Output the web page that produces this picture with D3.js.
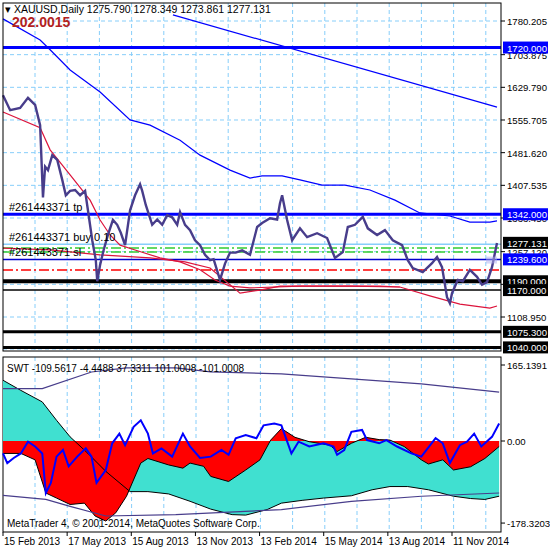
<!DOCTYPE html>
<html><head><meta charset="utf-8">
<script src="https://cdn.jsdelivr.net/npm/d3@7"></script>
<style>body{margin:0;background:#fff}svg{display:block}text{font-family:"Liberation Sans",Arial,sans-serif}</style>
</head><body><svg id="c" width="550" height="550"></svg>
<script>
// days since 15 Feb 2013
const priceDay=[0,10,24,35,45,52,56,59,63,69,76,83,88,94,101,108,115,119,125,130,132,136,141,147,154,160,165,171,178,185,192,195,200,209,216,223,230,237,244,248,255,262,269,276,283,290,295,304,311,318,326,335,346,356,363,374,384,388,391,398,405,416,426,440,454,465,476,483,493,504,511,524,535,546,559,567,574,588,601,608,615,622,626,629,637,644,654,664,671,678,685,692];
const priceClose=[1612,1578,1583,1606,1590,1544,1380,1450,1442,1476,1465,1420,1385,1395,1397,1385,1395,1351,1283,1238,1190,1227,1261,1295,1329,1318,1300,1272,1351,1385,1410,1395,1363,1318,1330,1318,1340,1335,1318,1347,1318,1306,1283,1272,1250,1238,1240,1193,1230,1255,1255,1260,1250,1313,1322,1333,1330,1367,1385,1329,1283,1310,1290,1299,1288,1243,1256,1313,1318,1336,1310,1295,1306,1283,1272,1238,1220,1211,1231,1245,1222,1154,1140,1163,1193,1190,1216,1200,1182,1188,1222,1277];
const ma200Day=[0,52,66,94,136,178,206,248,276,318,346,363,391,416,447,479,514,549,584,626,654,682,692];
const ma200=[1785,1737,1715,1669,1619,1556,1544,1510,1476,1442,1424,1429,1429,1420,1408,1408,1397,1374,1345,1338,1324,1324,1327];
const trendDay=[238,692], trendVal=[1794,1585];
const maFastDay=[0,52,66,94,122,136,150,164,185,220,248,276,297,318,346,416,486,556,598,640,682,692];
const maFast=[1574,1538,1488,1431,1374,1329,1295,1272,1261,1243,1234,1216,1193,1179,1175,1179,1179,1177,1157,1138,1129,1134];
const maSlowDay=[0,66,136,206,255,290,332,360,388,528,556];
const maSlow=[1265,1261,1250,1243,1234,1220,1163,1170,1179,1179,1177];
const priceTicks=[1780.205,1703.875,1629.790,1555.705,1481.620,1407.535,1333.450,1257.120,1183.035,1108.950];
const levels=[
 {p:1720,c:"#0000ff",w:3,dash:null,box:"#0000ff",t:"1720.000"},
 {p:1342,c:"#0000ff",w:3,dash:null,box:"#0000ff",t:"1342.000",lab:"#261443371 tp"},
 {p:1274,c:"#87cefa",w:1.5,dash:null,lab:"#261443371 buy 0.10"},
 {p:1277.131,c:"none",w:0,dash:null,box:"#000",t:"1277.131"},
 {p:1265.4,c:"#32cd32",w:1.5,dash:"10,3,2,3"},
 {p:1256.5,c:"#32cd32",w:1.5,dash:"10,3,2,3"},
 {p:1239.6,c:"#0000cd",w:1.5,dash:null,box:"#0000ff",t:"1239.600",lab:"#261443371 sl"},
 {p:1215.5,c:"#ff0000",w:1.5,dash:"10,3,2,3"},
 {p:1190,c:"#000",w:4,dash:null,box:"#000",t:"1190.000"},
 {p:1170,c:"#000",w:1.5,dash:null,box:"#000",t:"1170.000"},
 {p:1075.3,c:"#000",w:3,dash:null,box:"#000",t:"1075.300"},
 {p:1040,c:"#000",w:3,dash:null,box:"#000",t:"1040.000"}];
const dateTicks=["15 Feb 2013","17 May 2013","15 Aug 2013","13 Nov 2013","13 Feb 2014","15 May 2014","13 Aug 2014","11 Nov 2014"];
// SWT subwindow
const swDay=[0,25,55,75,94,119,144,178,203,232,262,291,321,340,370,390,419,449,488,517,542,567,596,631,655,675,695];
const swA=[132,110,85,45,9,-27,-66,-110,-110,-115,-131,-148,-160,-161,-149,-135,-129,-124,-119,-106,-99,-99,-106,-120,-125,-127,-120];
const swBDay=[0,25,45,60,75,94,114,129,144,158,173,193,203,232,252,262,281,291,316,340,360,375,390,409,429,458,468,488,508,527,542,562,586,596,616,631,655,675,695];
const swB=[-27,-27,-41,-113,-124,-138,-135,-163,-174,-156,-120,-48,-38,-52,-59,-48,-55,-77,-88,-63,-41,2,27,8,-1.5,-9,-23,-5,8,3,2,-12,-41,-50,-41,-63,-56,-38,-12];
const swtDay=[0,6,15,25,35,45,55,60,67,75,84,92,104,116,124,131,144,153,163,171,183,193,203,210,222,237,252,262,276,291,306,316,326,340,355,365,380,390,404,414,429,449,463,468,478,488,503,510,527,537,552,572,586,606,616,626,640,650,660,670,685,695];
const swt=[-27,-48,-37,-27,-1.5,-12,-27,-113,-91,-34,-19.5,-55,-34,-16,-34,-91,-63,-5,16,-9,31,45,16,-27,-16,-34,16,-12,-37,-34,-19.5,-30,6,13,6,34,38,34,-27,-1.5,-12,-5,-12,-30,-19.5,20,24,2,-5,2,-12,-27,-34,6,-5,-48,-9,-1.5,16,-12,9,38];
const bandDayU=[0,55,124,173,242,291,390,488,586,695], bandU=[114,114,150,159,159,150,146,135,124,106];
const bandDayL=[0,60,94,144,242,390,488,586,695], bandL=[-118,-127,-142,-163,-160,-149,-131,-120,-113];
const swTicks=[165.1391,0,-178.3203];

const svg=d3.select("#c");
const t0=new Date(2013,1,15);
const dd=d=>d3.timeDay.offset(t0,d);
const x=d3.scaleTime().domain([t0,dd(692)]).range([3,497]);
const y=d3.scaleLinear().domain([1108.95,1780.205]).range([317,21]);
const ys=d3.scaleLinear().domain([0,165.1391]).range([441,365]);
const L=3,R=501,T=3,B=351,T2=357,B2=532;
const gx=d3.range(35,490,32.2);
const grid=svg.append("g").attr("stroke","#87cefa").attr("stroke-dasharray","4,3");
gx.forEach(v=>{grid.append("line").attr("x1",v).attr("x2",v).attr("y1",T).attr("y2",B);grid.append("line").attr("x1",v).attr("x2",v).attr("y1",T2).attr("y2",B2);});
priceTicks.forEach(p=>grid.append("line").attr("x1",L).attr("x2",R).attr("y1",y(p)).attr("y2",y(p)));
svg.append("line").attr("x1",L).attr("x2",R).attr("y1",349).attr("y2",349).attr("stroke","#87cefa").attr("stroke-dasharray","4,3");
const lv=svg.append("g");
levels.forEach(l=>{ if(l.c!=="none") lv.append("line").attr("x1",L).attr("x2",R).attr("y1",y(l.p)).attr("y2",y(l.p)).attr("stroke",l.c).attr("stroke-width",l.w).attr("stroke-dasharray",l.dash);});
const line=(xs,vs,sc)=>d3.line().x((d,i)=>x(dd(xs[i]))).y(d=>sc(d))(vs);
const path=(xs,vs,sc,c,w)=>svg.append("path").attr("d",line(xs,vs,sc)).attr("fill","none").attr("stroke",c).attr("stroke-width",w);
path(maSlowDay,maSlow,y,"#dc143c",1.2);
path(maFastDay,maFast,y,"#dc143c",1.2);
path(ma200Day,ma200,y,"#0000ff",1.2);
path(trendDay,trendVal,y,"#0000ff",1.2);
path(priceDay,priceClose,y,"#483d8b",2.4);
svg.append("rect").attr("x",486).attr("y",y(1246)).attr("width",11).attr("height",7).attr("fill","#b0b0f0").attr("opacity",0.5);
levels.filter(l=>l.lab).forEach(l=>svg.append("text").attr("x",9).attr("y",y(l.p)-3).attr("font-size",11).text(l.lab));
svg.append("rect").attr("x",L).attr("y",T).attr("width",R-L).attr("height",B-T).attr("fill","none").attr("stroke","#000");
svg.append("rect").attr("x",L).attr("y",T2).attr("width",R-L).attr("height",B2-T2).attr("fill","none").attr("stroke","#000");
const ax=svg.append("g").attr("font-size",9.6);
priceTicks.forEach(p=>{ax.append("line").attr("x1",R).attr("x2",R+4).attr("y1",y(p)).attr("y2",y(p)).attr("stroke","#000");ax.append("text").attr("x",507).attr("y",y(p)+4).text(p.toFixed(3));});
levels.filter(l=>l.box).forEach(l=>{ax.append("rect").attr("x",503).attr("y",y(l.p)-6).attr("width",45).attr("height",12).attr("fill",l.box);ax.append("text").attr("x",507).attr("y",y(l.p)+4).attr("fill","#fff").text(l.t);});
const area=(xs,vs,c)=>svg.append("path").attr("d",d3.area().x((d,i)=>x(dd(xs[i]))).y0(ys(0)).y1(d=>ys(d))(vs)).attr("fill",c);
area(swDay,swA,"#40e0d0");
area(swBDay,swB,"#ff0000");
path(swDay,swA,ys,"#000",1);
path(swBDay,swB,ys,"#000",1);
path(bandDayU,bandU,ys,"#483d8b",1.2);
path(bandDayL,bandL,ys,"#483d8b",1.2);
path(swtDay,swt,ys,"#0000ff",2);
swTicks.forEach(v=>{ax.append("line").attr("x1",R).attr("x2",R+4).attr("y1",ys(v)).attr("y2",ys(v)).attr("stroke","#000");ax.append("text").attr("x",507).attr("y",ys(v)+4).text(v===0?"0.00":v.toFixed(4));});
svg.append("text").attr("x",7).attr("y",372).attr("font-size",10).text("SWT -109.5617 -4.4488 37.3311 101.0008 -101.0008");
svg.append("text").attr("x",7).attr("y",527).attr("font-size",10).text("MetaTrader 4, © 2001-2014, MetaQuotes Software Corp.");
const xd=d3.scaleLinear().domain([0,7]).range([3,452]);
dateTicks.forEach((s,i)=>{ax.append("line").attr("x1",xd(i)).attr("x2",xd(i)).attr("y1",B2).attr("y2",B2+4).attr("stroke","#000");ax.append("text").attr("x",xd(i)+1).attr("y",545).attr("font-size",10).text(s);});
svg.append("text").attr("x",5).attr("y",13).attr("font-size",10.5).text("▾ XAUUSD,Daily  1275.790 1278.349 1273.861 1277.131");
svg.append("text").attr("x",12).attr("y",27).attr("font-size",14).attr("font-weight","bold").attr("fill","#b22222").text("202.0015");
</script></body></html>
